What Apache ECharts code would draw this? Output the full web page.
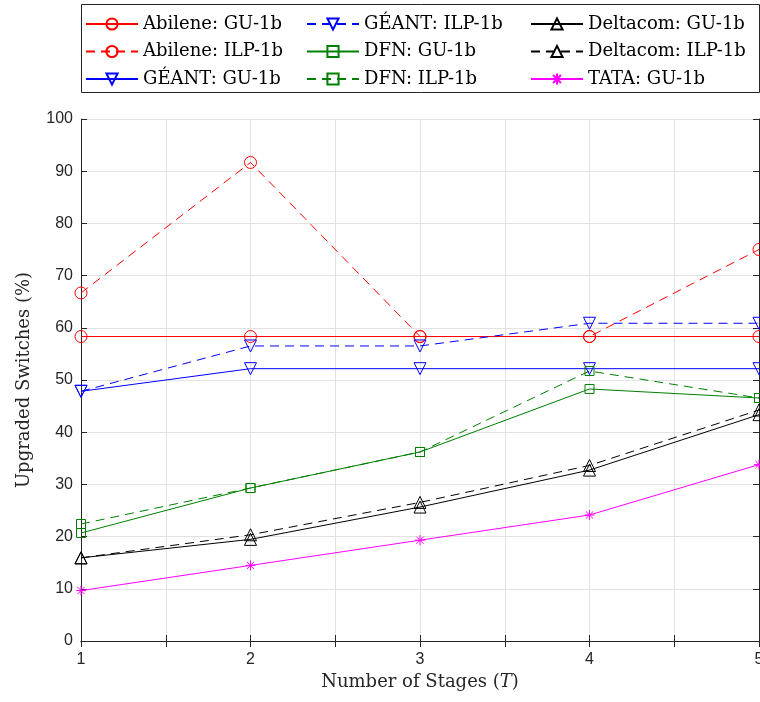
<!DOCTYPE html>
<html>
<head>
<meta charset="utf-8">
<script src="https://cdn.jsdelivr.net/npm/echarts@6/dist/echarts.min.js"></script>
<style>
  html, body { margin: 0; padding: 0; background: #fff; }
  #chart { width: 760px; height: 702px; }
</style>
</head>
<body>
<div id="chart"></div>
<script>
// Share of switches that must be upgraded, per number of migration stages
const stages = [1, 2, 3, 4, 5];

const abileneGU   = [58.33, 58.33, 58.33, 58.33, 58.33];
const abileneILP  = [66.67, 91.67, 58.33, 58.33, 75.00];
const geantGU     = [47.83, 52.17, 52.17, 52.17, 52.17];
const geantILP    = [47.83, 56.52, 56.52, 60.87, 60.87];
const dfnGU       = [20.69, 29.31, 36.21, 48.28, 46.55];
const dfnILP      = [22.41, 29.31, 36.21, 51.72, 46.55];
const deltacomGU  = [15.93, 19.47, 25.66, 32.74, 43.36];
const deltacomILP = [15.93, 20.35, 26.55, 33.63, 44.25];
const tataGU      = [9.66, 14.48, 19.31, 24.14, 33.79];

const seriesNames = [
  'Abilene: GU-1b', 'Abilene: ILP-1b', 'GÉANT: GU-1b',
  'GÉANT: ILP-1b', 'DFN: GU-1b', 'DFN: ILP-1b',
  'Deltacom: GU-1b', 'Deltacom: ILP-1b', 'TATA: GU-1b'
];

const SERIF = '"DejaVu Serif", "Liberation Serif", serif';
const SANS = '"Liberation Sans", Arial, Helvetica, sans-serif';
const AXIS = '#262626';
const GRID = '#e2e2e2';

const RED = '#ff0000', BLUE = '#0000ff', GREEN = '#008000', BLACK = '#000000', MAGENTA = '#ff00ff';
const DASH = [9, 6];

const TRI_DOWN = 'path://M0,0 L20,0 L10,17.32 Z';
const ASTERISK = 'path://M0,10 L20,10 M10,0 L10,20 M2.93,2.93 L17.07,17.07 M17.07,2.93 L2.93,17.07';

function makeSeries(name, values, color, dashed, symbol, size) {
  return {
    name: name,
    type: 'line',
    data: stages.map((s, i) => [s, values[i]]),
    symbol: symbol,
    symbolSize: size,
    showAllSymbol: true,
    clip: false,
    animation: false,
    lineStyle: { color: color, width: 1, type: dashed ? DASH : 'solid' },
    itemStyle: { color: 'rgba(0,0,0,0)', borderColor: color, borderWidth: 1 },
    emphasis: { disabled: true }
  };
}

const series = [
  makeSeries(seriesNames[0], abileneGU,   RED,     false, 'circle',   12),
  makeSeries(seriesNames[1], abileneILP,  RED,     true,  'circle',   12),
  makeSeries(seriesNames[2], geantGU,     BLUE,    false, TRI_DOWN,   12),
  makeSeries(seriesNames[3], geantILP,    BLUE,    true,  TRI_DOWN,   12),
  makeSeries(seriesNames[4], dfnGU,       GREEN,   false, 'rect',     9),
  makeSeries(seriesNames[5], dfnILP,      GREEN,   true,  'rect',     9),
  makeSeries(seriesNames[6], deltacomGU,  BLACK,   false, 'triangle', 12),
  makeSeries(seriesNames[7], deltacomILP, BLACK,   true,  'triangle', 12),
  makeSeries(seriesNames[8], tataGU,      MAGENTA, false, ASTERISK,   10)
];

function legendColumn(names, left) {
  return {
    data: names,
    orient: 'vertical',
    left: left,
    top: 15,
    padding: 0,
    itemWidth: 52,
    itemHeight: 14,
    itemGap: 9.5,
    selectedMode: false,
    textStyle: { fontFamily: SERIF, fontSize: 18, color: '#000', lineHeight: 18 }
  };
}

const GRID_LEFT = 81, GRID_TOP = 119, GRID_W = 678, GRID_H = 522;

const option = {
  backgroundColor: '#ffffff',
  animation: false,
  grid: {
    left: GRID_LEFT, top: GRID_TOP, width: GRID_W, height: GRID_H,
    containLabel: false, outerBoundsMode: 'none'
  },
  legend: [
    legendColumn(seriesNames.slice(0, 3), 85),
    legendColumn(seriesNames.slice(3, 6), 306),
    legendColumn(seriesNames.slice(6, 9), 530)
  ],
  graphic: [{
    type: 'rect',
    shape: { x: 81.5, y: 4.5, width: 678, height: 88 },
    style: { fill: 'none', stroke: AXIS, lineWidth: 1 },
    silent: true,
    z: 100
  }],
  xAxis: [{
    type: 'value',
    min: 1, max: 5, interval: 0.5,
    name: 'Number of Stages ({i|T})',
    nameLocation: 'middle',
    nameGap: 28,
    nameTextStyle: {
      fontFamily: SERIF, fontSize: 18, color: AXIS, verticalAlign: 'top',
      rich: { i: { fontFamily: SERIF, fontSize: 18, fontStyle: 'italic', color: AXIS } }
    },
    axisLine: { show: true, lineStyle: { color: AXIS, width: 1 } },
    axisTick: { show: true, inside: true, length: 6, lineStyle: { color: AXIS } },
    axisLabel: {
      fontFamily: SANS, fontSize: 16, color: AXIS, margin: 11,
      formatter: v => (Number.isInteger(v) ? String(v) : '')
    },
    splitLine: { show: true, lineStyle: { color: GRID, width: 1 } }
  }, {
    type: 'value', position: 'top',
    min: 1, max: 5, interval: 0.5,
    axisLine: { show: true, lineStyle: { color: AXIS, width: 1 } },
    axisTick: { show: true, inside: true, length: 6, lineStyle: { color: AXIS } },
    axisLabel: { show: false },
    splitLine: { show: false }
  }],
  yAxis: [{
    type: 'value',
    min: 0, max: 100, interval: 10,
    name: 'Upgraded Switches (%)',
    nameLocation: 'middle',
    nameGap: 48,
    nameTextStyle: { fontFamily: SERIF, fontSize: 18, color: AXIS },
    axisLine: { show: true, lineStyle: { color: AXIS, width: 1 } },
    axisTick: { show: true, inside: true, length: 6, lineStyle: { color: AXIS } },
    axisLabel: { fontFamily: SANS, fontSize: 16, color: AXIS, margin: 8 },
    splitLine: { show: true, lineStyle: { color: GRID, width: 1 } }
  }, {
    type: 'value', position: 'right',
    min: 0, max: 100, interval: 10,
    axisLine: { show: true, lineStyle: { color: AXIS, width: 1 } },
    axisTick: { show: true, inside: true, length: 6, lineStyle: { color: AXIS } },
    axisLabel: { show: false },
    splitLine: { show: false }
  }],
  series: series
};

const chart = echarts.init(document.getElementById('chart'), null, { renderer: 'canvas' });
chart.setOption(option);
</script>
</body>
</html>
